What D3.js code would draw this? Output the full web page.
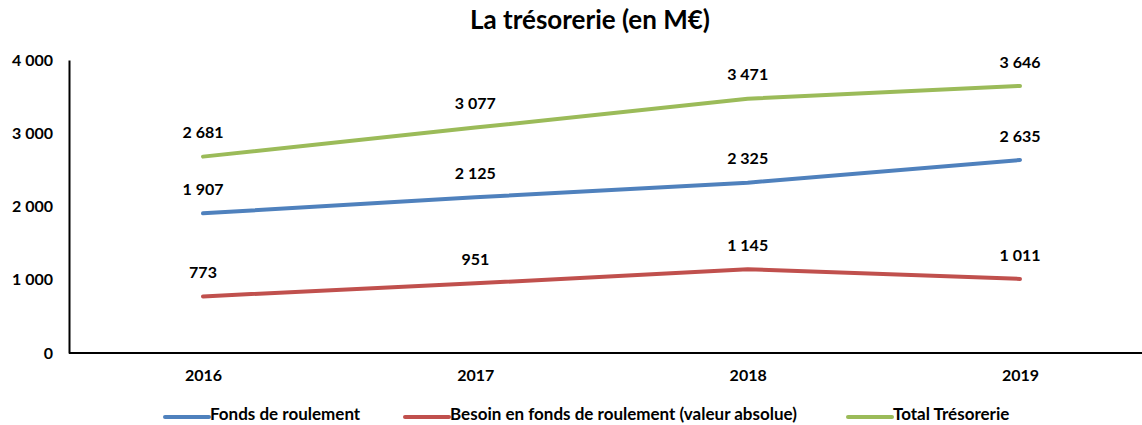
<!DOCTYPE html>
<html>
<head>
<meta charset="utf-8">
<script src="https://cdn.jsdelivr.net/npm/d3@7"></script>
<style>
  body { margin: 0; background: #fff; }
  text { font-family: Lato, "Open Sans", sans-serif; font-weight: bold; fill: #000; }
</style>
</head>
<body>
<div id="chart"></div>
<script>
var years = ["2016", "2017", "2018", "2019"];
var fondsRoulement = [1907, 2125, 2325, 2635];
var besoinFonds = [773, 951, 1145, 1011];
var totalTresorerie = [2681, 3077, 3471, 3646];
var yTicks = [0, 1000, 2000, 3000, 4000];
var seriesNames = ["Fonds de roulement", "Besoin en fonds de roulement (valeur absolue)", "Total Trésorerie"];
var seriesColors = ["#4F81BD", "#C0504D", "#9BBB59"];

var width = 1142,
  height = 425;
var margin = { top: 60, left: 69, bottom: 353 };

var fr = d3.formatLocale({ decimal: ",", thousands: " ", grouping: [3], currency: ["", " €"] });
var fmt = fr.format(",d");

var svg = d3
  .select("#chart")
  .append("svg")
  .attr("width", width)
  .attr("height", height);

var x = d3.scalePoint().domain(years).range([203, 1020]);
var y = d3.scaleLinear().domain([0, 4000]).range([margin.bottom, margin.top]);

// title
svg
  .append("text")
  .attr("x", 590)
  .attr("y", 29)
  .attr("text-anchor", "middle")
  .style("font-size", "26px")
  .text("La trésorerie (en M€)");

// y axis
var yAxis = svg
  .append("g")
  .attr("transform", "translate(" + margin.left + ",0)")
  .call(d3.axisLeft(y).tickValues(yTicks).tickSize(0).tickPadding(16).tickFormat(fmt));
yAxis.select(".domain").attr("stroke", "#000").attr("stroke-width", 2);
yAxis.selectAll("text").style("font-size", "16px").style("font-family", null);

// x axis (line runs to the right edge)
var xAxis = svg
  .append("g")
  .attr("transform", "translate(0," + margin.bottom + ")")
  .call(d3.axisBottom(x).tickSize(0).tickPadding(17));
xAxis.select(".domain").remove();
xAxis.selectAll("text").style("font-size", "16px").style("font-family", null);
svg
  .append("line")
  .attr("x1", margin.left)
  .attr("x2", width)
  .attr("y1", margin.bottom)
  .attr("y2", margin.bottom)
  .attr("stroke", "#000")
  .attr("stroke-width", 2);

var series = [fondsRoulement, besoinFonds, totalTresorerie];

var line = d3
  .line()
  .x(function (d, i) { return x(years[i]); })
  .y(function (d) { return y(d); });

series.forEach(function (values, s) {
  svg
    .append("path")
    .attr("d", line(values))
    .attr("fill", "none")
    .attr("stroke", seriesColors[s])
    .attr("stroke-width", 4)
    .attr("stroke-linecap", "round")
    .attr("stroke-linejoin", "round");

  svg
    .append("g")
    .selectAll("text")
    .data(values)
    .enter()
    .append("text")
    .attr("x", function (d, i) { return x(years[i]); })
    .attr("y", function (d) { return y(d) - 24; })
    .attr("dy", "0.35em")
    .attr("text-anchor", "middle")
    .style("font-size", "16px")
    .text(function (d) { return fmt(d); });
});

// legend
var legendX = [165, 405, 848];
var legend = svg
  .selectAll(".legend")
  .data(seriesNames)
  .enter()
  .append("g")
  .attr("class", "legend")
  .attr("transform", function (d, i) { return "translate(" + legendX[i] + ",417)"; });
legend
  .append("line")
  .attr("x1", 0)
  .attr("x2", 44)
  .attr("stroke", function (d, i) { return seriesColors[i]; })
  .attr("stroke-width", 4)
  .attr("stroke-linecap", "round");
legend
  .append("text")
  .attr("x", 45)
  .attr("y", -3)
  .attr("dy", "0.35em")
  .style("font-size", "17px")
  .text(function (d) { return d; });
</script>
</body>
</html>
